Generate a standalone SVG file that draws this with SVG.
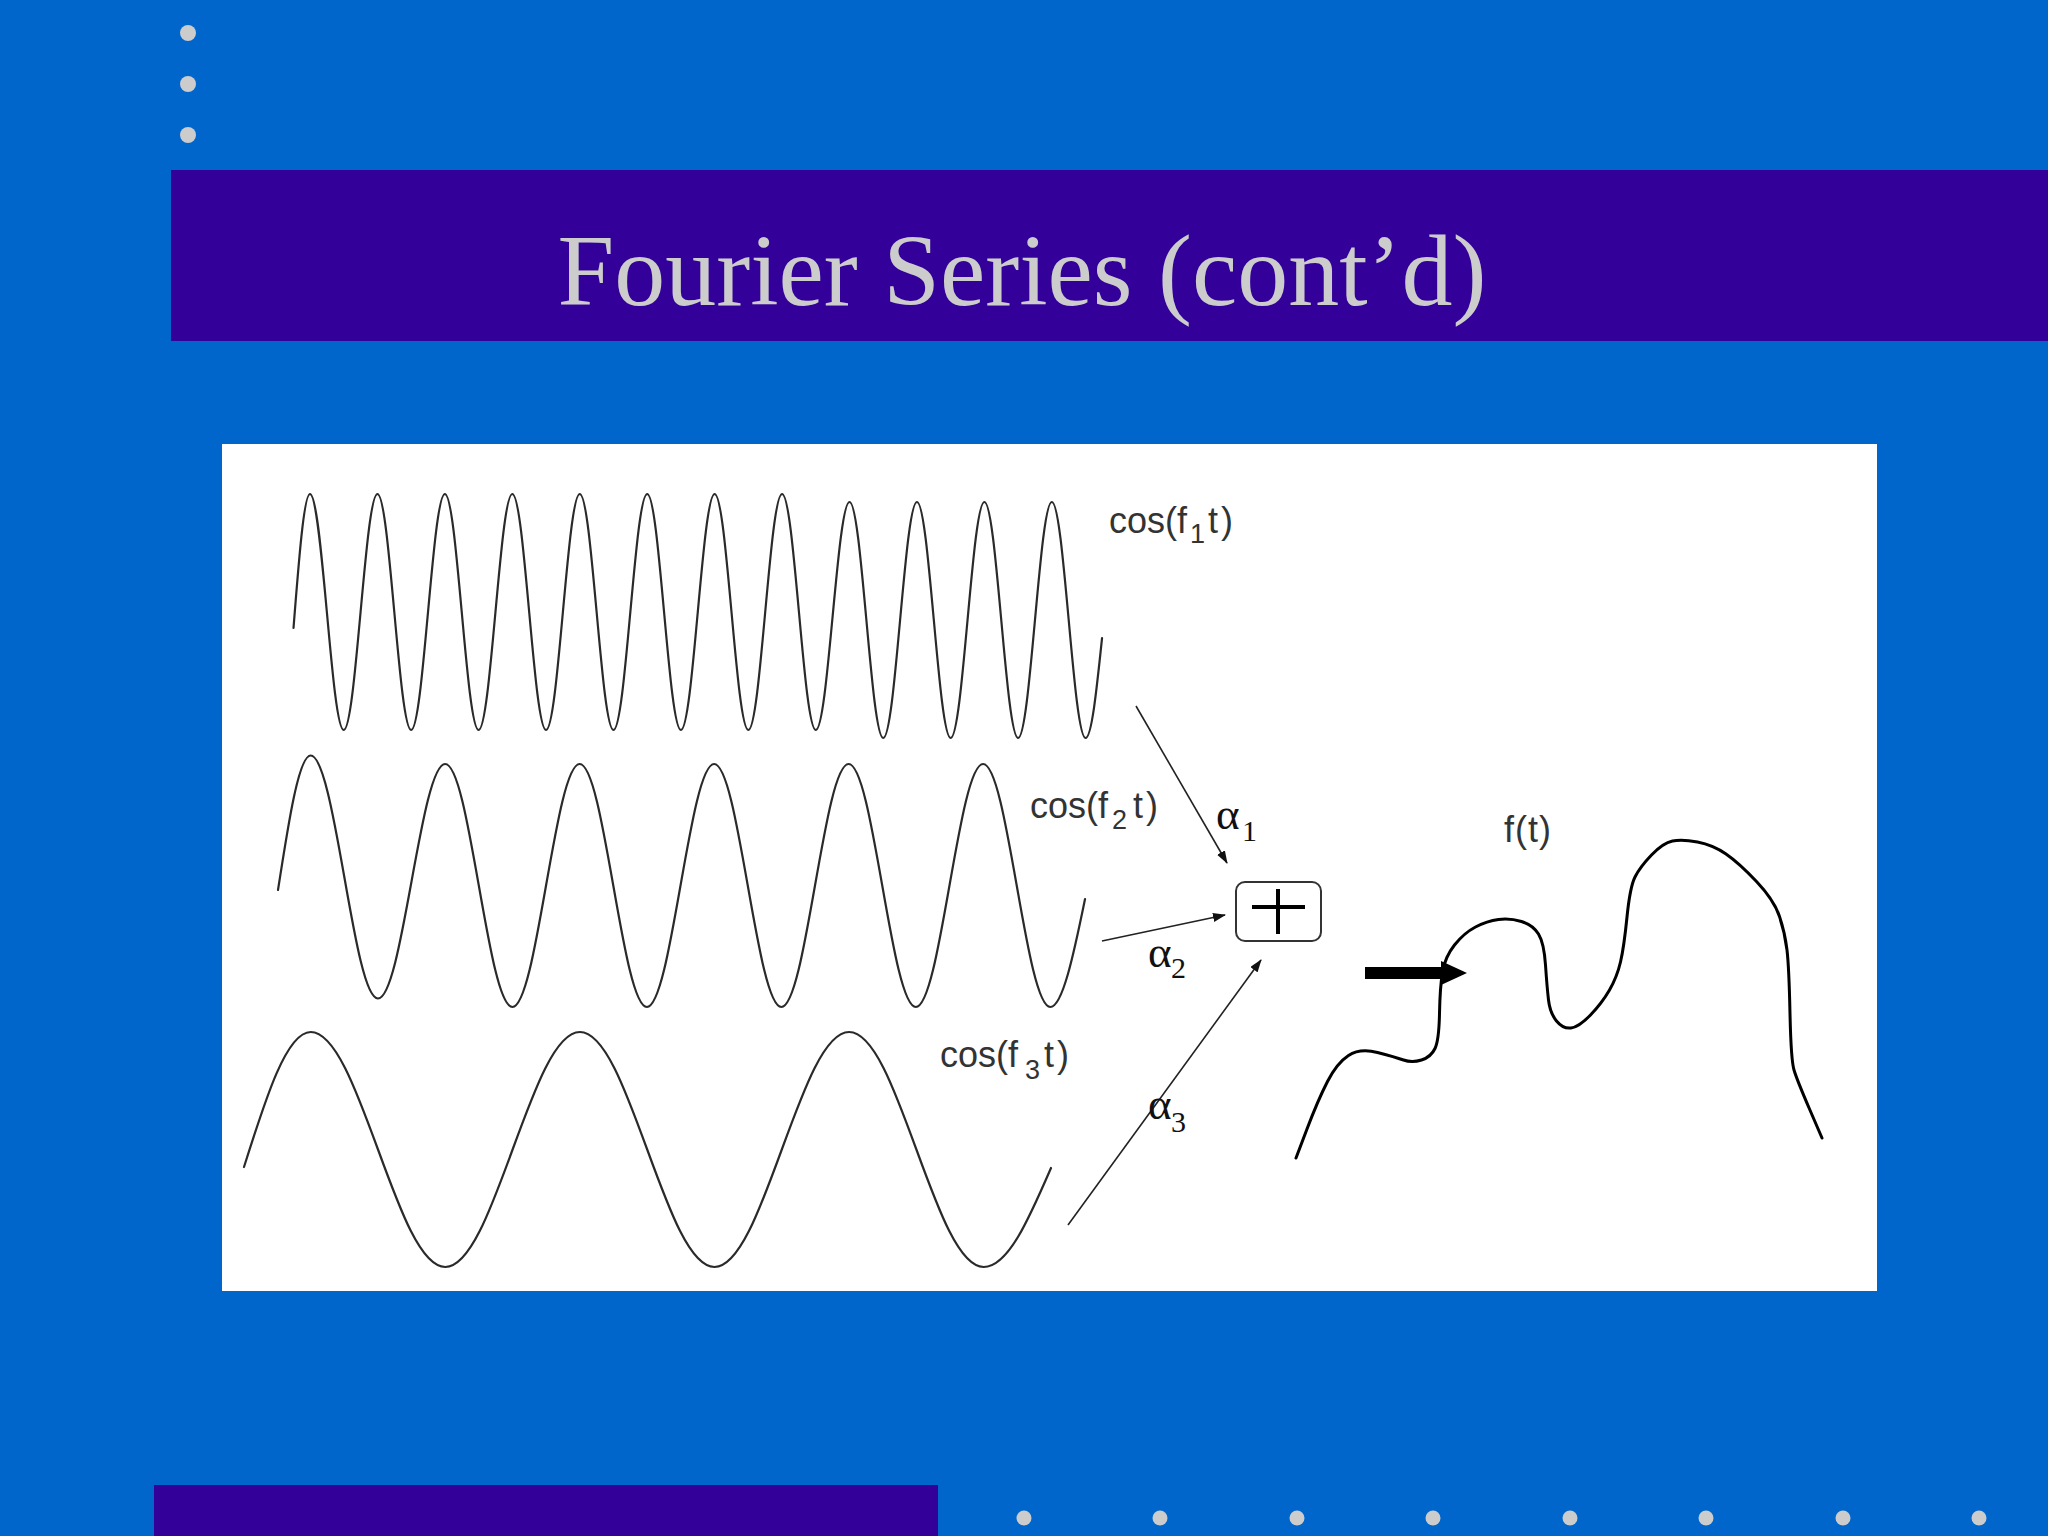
<svg xmlns="http://www.w3.org/2000/svg" width="2048" height="1536" viewBox="0 0 2048 1536">
<defs>
<style>
.bg{fill:#0066cc}
.band{fill:#330099}
.dot{fill:#cccccc}
.title{font-family:"Liberation Serif","Times New Roman",serif;font-size:102px;fill:#cccccc}
.wave{fill:none;stroke:#2a2a2a;stroke-width:2.2;stroke-linejoin:round;stroke-linecap:round}
.lbl{font-family:"Liberation Sans",Arial,sans-serif;font-size:36px;fill:#333333}
.sub{font-size:27px}
.tp{letter-spacing:3px}
.alpha{font-family:"Liberation Serif","Times New Roman",serif;font-size:45px;fill:#111111}
.asub{font-size:30px}
.conn{fill:none;stroke:#222222;stroke-width:1.6}
</style>
<marker id="ah" markerUnits="userSpaceOnUse" markerWidth="13" markerHeight="9" refX="12" refY="4.5" orient="auto">
<path d="M0,0 L13,4.5 L0,9 z" fill="#111111"/>
</marker>
</defs>
<rect class="bg" x="0" y="0" width="2048" height="1536"/>
<g id="top-dots">
<circle class="dot" cx="188" cy="33" r="8"/>
<circle class="dot" cx="188" cy="84" r="8"/>
<circle class="dot" cx="188" cy="135" r="8"/>
</g>
<g id="title-band">
<rect class="band" x="171" y="170" width="1877" height="171"/>
<text class="title" x="1022" y="305" text-anchor="middle">Fourier Series (cont’d)</text>
</g>
<rect id="panel" x="222" y="444" width="1655" height="847" fill="#ffffff"/>
<g id="wave1">
<path class="wave" d="M293.5,628 c5.38,-68.65 10.53,-134 16.5,-134
s11.36,57.55 16.86,118 s10.76,118 16.86,118 s11.36,-57.55 16.86,-118 s10.76,-118 16.86,-118
s11.36,57.55 16.86,118 s10.76,118 16.86,118 s11.36,-57.55 16.86,-118 s10.76,-118 16.86,-118
s11.36,57.55 16.86,118 s10.76,118 16.86,118 s11.36,-57.55 16.86,-118 s10.76,-118 16.86,-118
s11.36,57.55 16.86,118 s10.76,118 16.86,118 s11.36,-57.55 16.86,-118 s10.76,-118 16.86,-118
s11.36,57.55 16.86,118 s10.76,118 16.86,118 s11.36,-57.55 16.86,-118 s10.76,-118 16.86,-118
s11.36,57.55 16.86,118 s10.76,118 16.86,118 s11.36,-57.55 16.86,-118 s10.76,-118 16.86,-118
s11.36,57.55 16.86,118 s10.76,118 16.86,118 s11.36,-57.55 16.86,-118 s10.76,-118 16.86,-118
s11.36,57.55 16.86,118 s10.76,118 16.86,118 s11.36,-55.6 16.86,-114 s10.76,-114 16.86,-114
s11.36,57.55 16.86,118 s10.76,118 16.86,118 s11.36,-57.55 16.86,-118 s10.76,-118 16.86,-118
s11.36,57.55 16.86,118 s10.76,118 16.86,118 s11.36,-57.55 16.86,-118 s10.76,-118 16.86,-118
s11.36,57.55 16.86,118 s10.76,118 16.86,118 s11.36,-57.55 16.86,-118 s10.76,-118 16.86,-118
s11.36,57.55 16.86,118 s10.76,118 16.86,118 s11.14,-48.8 16.5,-100"/>
<text class="lbl" x="1109" y="533">cos(f<tspan class="sub" x="1190" y="543">1</tspan><tspan class="tp" x="1208" y="533">t)</tspan></text>
</g>
<g id="wave2">
<path class="wave" d="M278,890 c10.66,-68.9 20.87,-134.5 32.7,-134.5
s22.66,59.26 33.62,121.5 s21.45,121.5 33.62,121.5
s22.66,-57.18 33.62,-117.25 s21.45,-117.25 33.62,-117.25
s22.66,59.26 33.62,121.5 s21.45,121.5 33.62,121.5 s22.66,-59.26 33.62,-121.5 s21.45,-121.5 33.62,-121.5
s22.66,59.26 33.62,121.5 s21.45,121.5 33.62,121.5 s22.66,-59.26 33.62,-121.5 s21.45,-121.5 33.62,-121.5
s22.66,59.26 33.62,121.5 s21.45,121.5 33.62,121.5 s22.66,-59.26 33.62,-121.5 s21.45,-121.5 33.62,-121.5
s22.66,59.26 33.62,121.5 s21.45,121.5 33.62,121.5 s22.66,-59.26 33.62,-121.5 s21.45,-121.5 33.62,-121.5
s22.66,59.26 33.62,121.5 s21.45,121.5 33.62,121.5 s23.4,-52.7 34.7,-108"/>
<text class="lbl" x="1030" y="818">cos(f<tspan class="sub" x="1112" y="829">2</tspan><tspan class="tp" x="1133" y="818">t)</tspan></text>
</g>
<g id="wave3">
<path class="wave" d="M244,1167 c21.75,-69.16 42.56,-135 66.7,-135
s45.35,57.3 67.3,117.5 s42.94,117.5 67.3,117.5 s45.35,-57.3 67.3,-117.5 s42.94,-117.5 67.3,-117.5
s45.35,57.3 67.3,117.5 s42.94,117.5 67.3,117.5 s45.35,-57.3 67.3,-117.5 s42.94,-117.5 67.3,-117.5
s45.35,57.3 67.3,117.5 s42.94,117.5 67.3,117.5 s45.35,-48.3 67.3,-99"/>
<text class="lbl" x="940" y="1067">cos(f<tspan class="sub" x="1025" y="1079">3</tspan><tspan class="tp" x="1044" y="1067">t)</tspan></text>
</g>
<g id="sum">
<rect x="1236" y="882" width="85" height="59" rx="9" fill="#ffffff" stroke="#333333" stroke-width="2"/>
<path d="M1252,907 H1305 M1278,889 V934" stroke="#000000" stroke-width="4" fill="none"/>
</g>
<g id="connectors">
<line class="conn" x1="1136" y1="706" x2="1227" y2="863" marker-end="url(#ah)"/>
<line class="conn" x1="1102" y1="941" x2="1225" y2="915" marker-end="url(#ah)"/>
<line class="conn" x1="1068" y1="1225" x2="1261" y2="960" marker-end="url(#ah)"/>
<text class="alpha" x="1216" y="829">α<tspan class="asub" x="1242" y="841">1</tspan></text>
<text class="alpha" x="1148" y="967">α<tspan class="asub" x="1171" y="978">2</tspan></text>
<text class="alpha" x="1148" y="1119">α<tspan class="asub" x="1171" y="1132">3</tspan></text>
<g id="result-arrow">
<rect x="1365" y="967" width="77" height="12" fill="#000000"/>
<polygon points="1441,961 1467,973 1441,985" fill="#000000"/>
</g>
</g>
<g id="ft">
<path d="M1296,1158 L1307,1129 Q1318,1100 1327.5,1081.5 Q1337,1063 1348.5,1055.5 Q1360,1048 1377.5,1052.5 Q1395,1057 1403.5,1060 Q1412,1063 1421.5,1060 Q1431,1057 1435,1048.5 Q1439,1040 1439.5,1013.5 Q1440,987 1442.5,972 Q1445,957 1454.5,945 Q1464,933 1475.5,927 Q1487,921 1498.5,919.5 Q1510,918 1521.5,921.5 Q1533,925 1538.5,934 Q1544,943 1545.5,965 Q1547,987 1548.5,1000 Q1550,1013 1556.5,1021 Q1563,1029 1571,1028 Q1579,1027 1590.5,1015 Q1602,1003 1609.5,990 Q1617,977 1620.5,962 Q1624,947 1627,917 Q1630,887 1635,877 Q1640,867 1651.5,855 Q1663,843 1672.5,841 Q1682,839 1697.5,842 Q1713,845 1726,854 Q1739,863 1756.5,881.5 Q1774,900 1779.5,916.5 Q1785,933 1787,950 Q1789,967 1790,1013.5 Q1791,1060 1794,1070 Q1797,1080 1809.5,1109 L1822,1138" fill="none" stroke="#000000" stroke-width="3" stroke-linejoin="round" stroke-linecap="round"/>
<text class="lbl" x="1504" y="842" letter-spacing="1">f(t)</text>
</g>
<g id="bottom">
<rect class="band" x="154" y="1485" width="784" height="51"/>
<circle class="dot" cx="1024" cy="1518" r="7.5"/>
<circle class="dot" cx="1160" cy="1518" r="7.5"/>
<circle class="dot" cx="1297" cy="1518" r="7.5"/>
<circle class="dot" cx="1433" cy="1518" r="7.5"/>
<circle class="dot" cx="1570" cy="1518" r="7.5"/>
<circle class="dot" cx="1706" cy="1518" r="7.5"/>
<circle class="dot" cx="1843" cy="1518" r="7.5"/>
<circle class="dot" cx="1979" cy="1518" r="7.5"/>
</g>
</svg>
